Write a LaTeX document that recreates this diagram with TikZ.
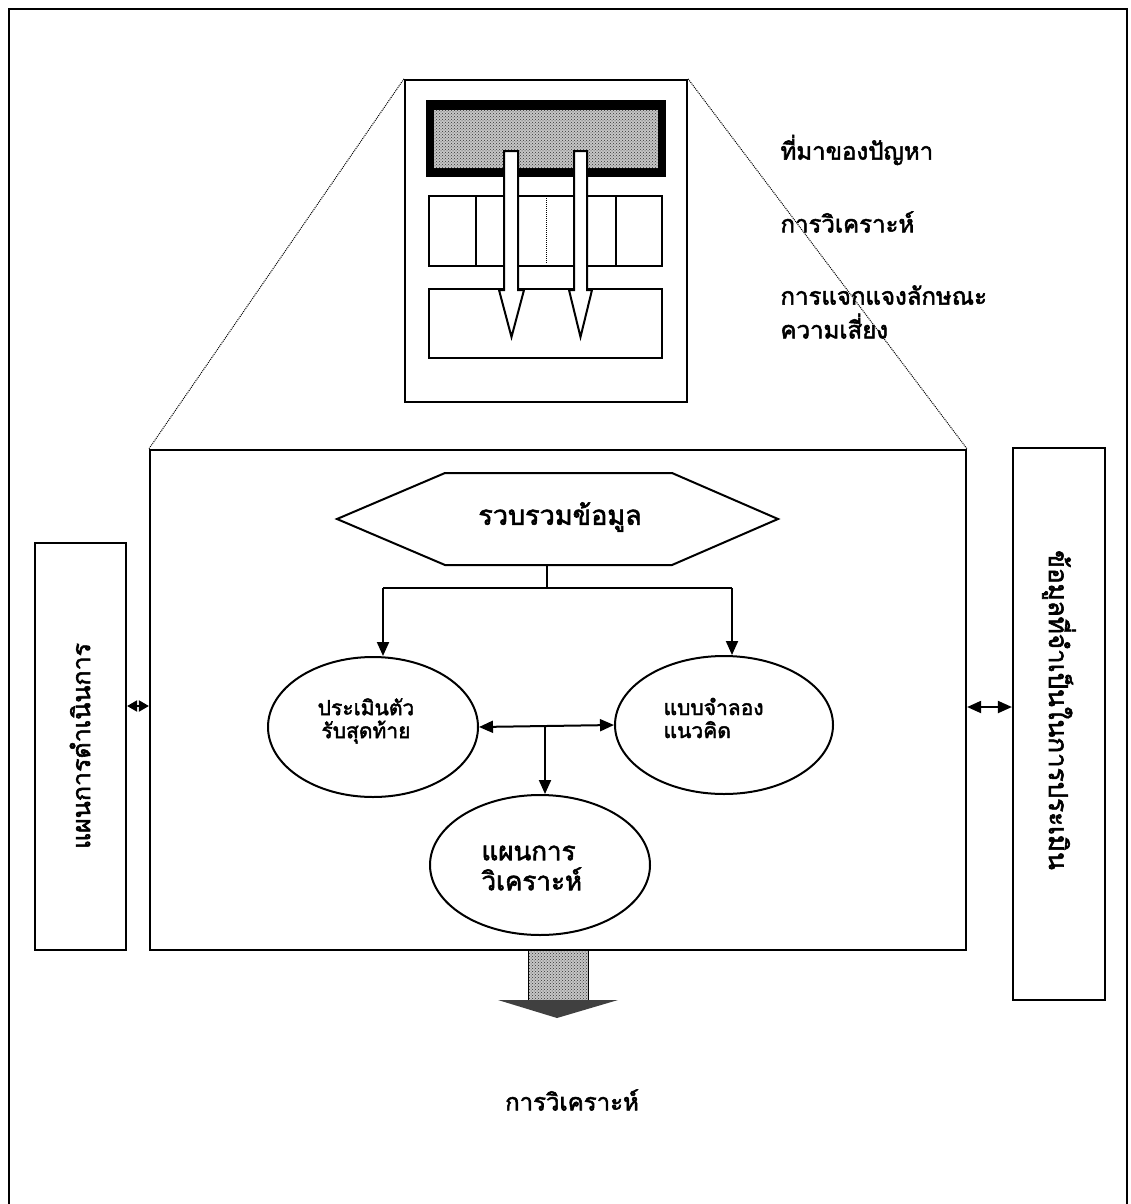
\documentclass[tikz,border=0pt]{standalone}
\usepackage{fontspec}
\newfontfamily\thaifont[Script=Thai,FakeBold=2.2]{Loma}
\usetikzlibrary{arrows.meta,patterns,shapes.geometric}
\begin{document}
\begin{tikzpicture}[x=1pt,y=-1pt,
  outline/.style={line width=2.2pt},
  box/.style={draw,line width=2.2pt,inner sep=0pt},
  bubble/.style={draw,ellipse,line width=2pt,inner sep=0pt},
  txt/.style={font=\thaifont\fontsize{#1}{#1}\selectfont},
  txt/.default=24,
  link/.style={line width=2pt,-{Triangle[length=14pt,width=12pt]}},
  twoway/.style={line width=2pt,{Triangle[length=14pt,width=12pt]}-{Triangle[length=14pt,width=12pt]}},
  shortway/.style={line width=2pt,{Triangle[length=10pt,width=11pt]}-{Triangle[length=10pt,width=11pt]}},
  zoomline/.style={line width=1pt,densely dotted},
  blockarrow/.style={draw,fill=white,line width=2pt,line join=miter}]

\useasboundingbox (0,0) rectangle (1130,1204);

% page frame, open at the bottom
\draw[outline] (9,1204) -- (9,9) -- (1127,9) -- (1127,1204);

% ---------- document sketch at the top ----------
\node[box,minimum width=282pt,minimum height=322pt] (doc) at (546,241) {};
% header band
\fill[black] (426,100) rectangle (666,177);
\fill[gray!45] (434,110) rectangle (658,168);
\fill[pattern=crosshatch dots,pattern color=black!80] (434,110) rectangle (658,168);
% middle row
\draw[line width=2pt] (429,196) rectangle (662,266);
\draw[line width=2pt] (476,196) -- (476,266);
\draw[line width=2pt] (616,196) -- (616,266);
\draw[line width=1pt,densely dotted] (546,198) -- (546,264);
% lower row
\draw[line width=2pt] (429,289) rectangle (662,358);
% two white arrows
\draw[blockarrow] (504,151) -- (518,151) -- (518,290) -- (524,290) -- (511.5,337)
  -- (499,290) -- (504,290) -- cycle;
\draw[blockarrow] (574,151) -- (587,151) -- (587,290) -- (592,290) -- (580.5,337)
  -- (569,290) -- (574,290) -- cycle;

% side captions
\node[txt,anchor=west] (src) at (777,150) {ที่มาของปัญหา};
\node[txt,anchor=west] (ana) at (777,222) {การวิเคราะห์};
\node[txt,anchor=west,align=left] (risk) at (777,312) {การแจกแจงลักษณะ\\[8pt]ความเสี่ยง};

% ---------- main frame ----------
\node[box,minimum width=816pt,minimum height=500pt] (main) at (558,700) {};
\draw[zoomline] (doc.north west) -- (main.north west);
\draw[zoomline] (doc.north east) -- (main.north east);

% hexagon
\draw[line width=2pt] (337,519) -- (445,473) -- (672,473) -- (778,519)
  -- (672,565) -- (445,565) -- cycle;
\node[txt=27] (collect) at (560,517) {รวบรวมข้อมูล};
\coordinate (hexbot) at (547,565);
\coordinate (split) at (547,588);
\coordinate (splitL) at (383,588);
\coordinate (splitR) at (732,588);

% ellipses
\node[bubble,minimum width=210pt,minimum height=140pt] (recv) at (373,727) {};
\node[txt=21,align=center] at (366,721) {ประเมินตัว\\[2pt]รับสุดท้าย};
\node[bubble,minimum width=218pt,minimum height=138pt] (model) at (724,725) {};
\node[txt=21,align=left,anchor=west] at (660,718) {แบบจำลอง\\[2pt]แนวคิด};
\node[bubble,minimum width=220pt,minimum height=140pt] (plana) at (540,865) {};
\node[txt=26,align=left,anchor=west] at (478,868) {แผนการ\\[4pt]วิเคราะห์};

% connectors inside the frame
\draw[line width=2pt] (hexbot) -- (split);
\draw[line width=2pt] (splitL) -- (splitR);
\draw[link] (splitL) -- (splitL |- recv.north);
\draw[link] (splitR) -- (splitR |- model.north);
\draw[twoway] (recv.east) -- (model.west);
\coordinate (mid) at (545,727);
\draw[link] (mid) -- (mid |- plana.north);

% ---------- side boxes ----------
\node[box,minimum width=91pt,minimum height=407pt] (ops) at (80.5,746.5) {};
\node[txt=25,rotate=90] at (80,746) {แผนการดำเนินการ};
\node[box,minimum width=92pt,minimum height=552pt] (need) at (1059,724) {};
\node[txt=26,rotate=-90] at (1059,710) {ข้อมูลที่จำเป็นในการประเมิน};

\draw[shortway] (ops.east |- 0,706) -- (main.west |- 0,706);
\draw[twoway] (main.east |- 0,707) -- (need.west |- 0,707);

% ---------- output arrow ----------
\fill[gray!45] (528,951) rectangle (588,1000);
\fill[pattern=crosshatch dots,pattern color=black!80] (528,951) rectangle (588,1000);
\draw[line width=1pt] (528,951) -- (528,1000) (588,951) -- (588,1000);
\fill[black!75] (498,1000) -- (618,1000) -- (557,1018) -- cycle;
\node[txt=24] (result) at (572,1100) {การวิเคราะห์};

\end{tikzpicture}
\end{document}
